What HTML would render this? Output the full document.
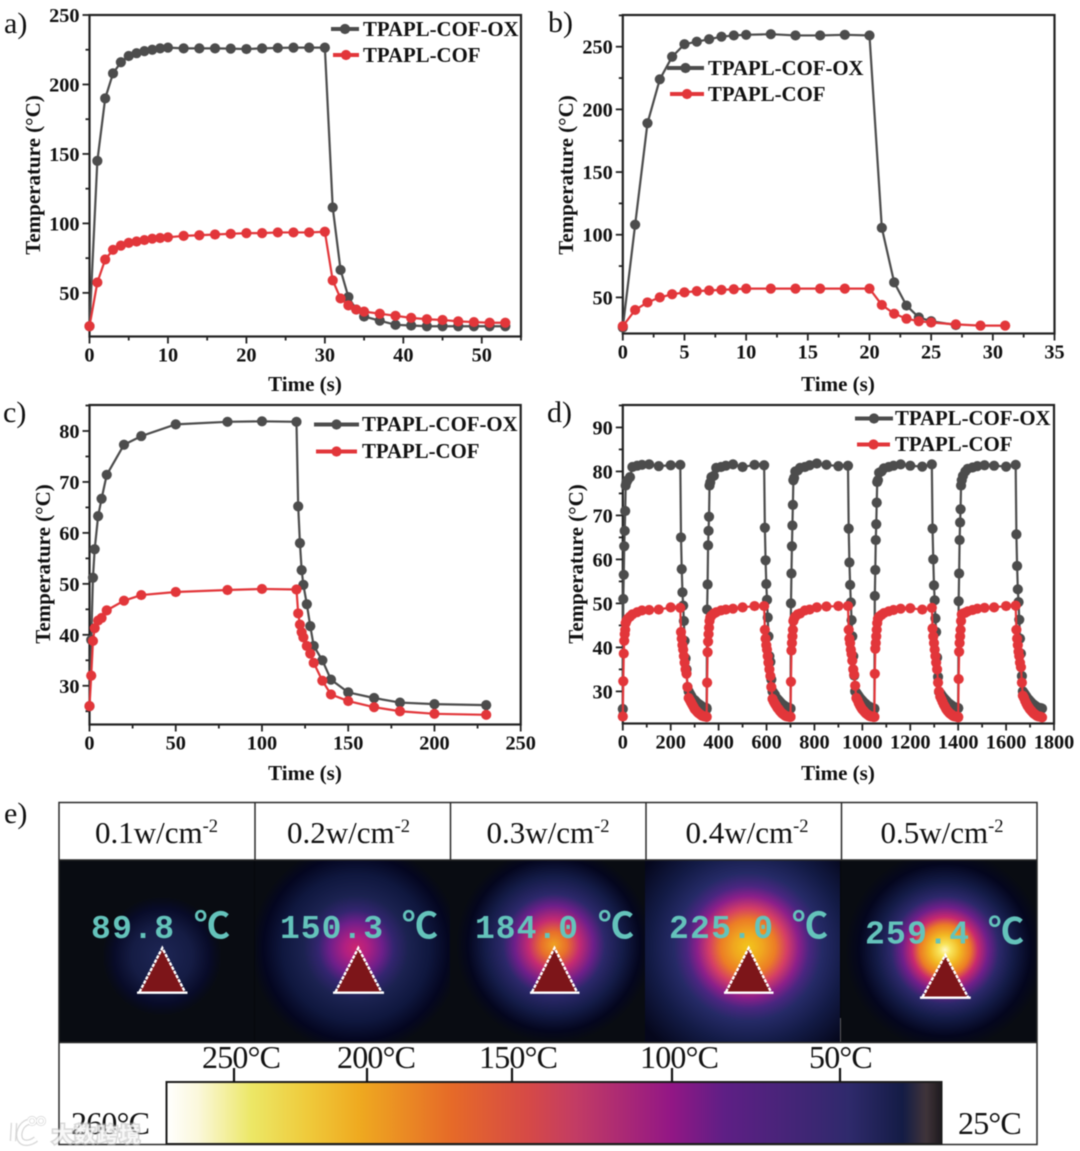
<!DOCTYPE html>
<html lang="en">
<head>
<meta charset="utf-8">
<title>Photothermal heating curves of TPAPL-COF-OX and TPAPL-COF</title>
<style>
html,body{margin:0;padding:0;background:#fff;}
#figure{display:block;filter:blur(0.45px);}
text{font-family:"Liberation Serif","Noto Serif CJK SC",serif;fill:#111;}
.tick{font-weight:bold;font-size:20.3px;}
.title{font-weight:bold;font-size:21px;text-anchor:middle;}
.legend{font-weight:bold;font-size:20.8px;}
.panel{font-size:30px;}
.head{font-size:31px;text-anchor:middle;}
.sup{font-size:18.5px;}
.num{font-family:"Liberation Mono",monospace;font-weight:bold;font-size:33px;fill:#64c3bb;}
.deg{font-family:"Liberation Mono","Noto Sans CJK SC",sans-serif;font-weight:bold;font-size:36px;fill:#64c3bb;}
.scale{font-size:32px;letter-spacing:-0.8px;}
</style>
</head>
<body>
<svg id="figure" xmlns="http://www.w3.org/2000/svg" width="1080" height="1151" viewBox="0 0 1080 1151">
  <defs>
    <linearGradient id="cbar" x1="0" x2="1" y1="0" y2="0">
      <stop offset="0" stop-color="#ffffff"/><stop offset=".04" stop-color="#fbf8dc"/>
      <stop offset=".11" stop-color="#ece766"/><stop offset=".18" stop-color="#efcb3c"/>
      <stop offset=".248" stop-color="#efaa20"/><stop offset=".368" stop-color="#e66a28"/>
      <stop offset=".466" stop-color="#d64a46"/><stop offset=".527" stop-color="#c33c64"/>
      <stop offset=".65" stop-color="#931785"/><stop offset=".72" stop-color="#5e1f85"/>
      <stop offset=".88" stop-color="#2f2a6c"/><stop offset=".95" stop-color="#141c45"/>
      <stop offset=".98" stop-color="#40343a"/><stop offset="1" stop-color="#1e1a1e"/>
    </linearGradient>
    <radialGradient id="h1" gradientUnits="userSpaceOnUse" cx="162" cy="956" r="60">
      <stop offset="0" stop-color="#1e2655"/><stop offset=".5" stop-color="#151c44"/>
      <stop offset=".8" stop-color="#080b28"/><stop offset=".9" stop-color="#080b1c"/><stop offset="1" stop-color="#090c12"/>
    </radialGradient>
    <radialGradient id="h2" gradientUnits="userSpaceOnUse" cx="356" cy="948" r="105">
      <stop offset="0" stop-color="#cc266f"/><stop offset=".11" stop-color="#b01f82"/>
      <stop offset=".25" stop-color="#6e1f8a"/><stop offset=".36" stop-color="#33256f"/>
      <stop offset=".5" stop-color="#1b2250"/><stop offset=".7" stop-color="#0f173e"/>
      <stop offset=".88" stop-color="#040620"/><stop offset="1" stop-color="#090c12"/>
    </radialGradient>
    <radialGradient id="h3" gradientUnits="userSpaceOnUse" cx="554" cy="945" r="98">
      <stop offset="0" stop-color="#efa222"/><stop offset=".13" stop-color="#e8702a"/>
      <stop offset=".26" stop-color="#c42a72"/><stop offset=".4" stop-color="#6e1f8a"/>
      <stop offset=".52" stop-color="#2c286a"/><stop offset=".7" stop-color="#141c48"/>
      <stop offset=".88" stop-color="#04061e"/><stop offset="1" stop-color="#090c12"/>
    </radialGradient>
    <radialGradient id="h4" gradientUnits="userSpaceOnUse" cx="748" cy="947" r="130">
      <stop offset="0" stop-color="#f3c61c"/><stop offset=".11" stop-color="#f0a71f"/>
      <stop offset=".21" stop-color="#ec7d25"/><stop offset=".3" stop-color="#d43d66"/>
      <stop offset=".39" stop-color="#8c1f8a"/><stop offset=".47" stop-color="#4a2680"/>
      <stop offset=".57" stop-color="#252a66"/><stop offset=".75" stop-color="#131b46"/>
      <stop offset="1" stop-color="#05071c"/>
    </radialGradient>
    <radialGradient id="h5" gradientUnits="userSpaceOnUse" cx="945" cy="950" r="100">
      <stop offset="0" stop-color="#fff8c8"/><stop offset=".06" stop-color="#f8e45a"/>
      <stop offset=".15" stop-color="#f2b822"/><stop offset=".25" stop-color="#ec7c25"/>
      <stop offset=".33" stop-color="#c8286f"/><stop offset=".43" stop-color="#6f1f8a"/>
      <stop offset=".54" stop-color="#2c286a"/><stop offset=".68" stop-color="#141c48"/>
      <stop offset=".86" stop-color="#04061e"/><stop offset="1" stop-color="#090c12"/>
    </radialGradient>
  </defs>

  <g id="chart-a"></g>
  <g id="chart-b"></g>
  <g id="chart-c"></g>
  <g id="chart-d"></g>

  <text class="panel" x="4" y="33">a)</text>
  <text class="panel" x="548" y="32">b)</text>
  <text class="panel" x="3" y="422">c)</text>
  <text class="panel" x="547" y="422">d)</text>
  <text class="panel" x="4" y="823">e)</text>

  <text class="title" x="305" y="391">Time (s)</text>
  <text class="title" transform="translate(40 175) rotate(-90)">Temperature (°C)</text>
  <text class="legend" x="363" y="36">TPAPL-COF-OX</text>
  <text class="legend" x="363" y="62">TPAPL-COF</text>

  <text class="title" x="838" y="391">Time (s)</text>
  <text class="title" transform="translate(573 175) rotate(-90)">Temperature (°C)</text>
  <text class="legend" x="708" y="75">TPAPL-COF-OX</text>
  <text class="legend" x="708" y="101">TPAPL-COF</text>

  <text class="title" x="305" y="780">Time (s)</text>
  <text class="title" transform="translate(50 564) rotate(-90)">Temperature (°C)</text>
  <text class="legend" x="362" y="431">TPAPL-COF-OX</text>
  <text class="legend" x="362" y="458">TPAPL-COF</text>

  <text class="title" x="838" y="780">Time (s)</text>
  <text class="title" transform="translate(583 564) rotate(-90)">Temperature (°C)</text>
  <text class="legend" x="895" y="425">TPAPL-COF-OX</text>
  <text class="legend" x="895" y="451">TPAPL-COF</text>

  <!-- panel e : thermal images -->
  <g>
    <rect x="59" y="860" width="978" height="183" fill="#090c12"/>
    <rect x="59" y="860" width="196" height="183" fill="url(#h1)"/>
    <rect x="255" y="860" width="195" height="183" fill="url(#h2)"/>
    <rect x="450" y="860" width="195" height="183" fill="url(#h3)"/>
    <rect x="645" y="860" width="195.5" height="183" fill="url(#h4)"/>
    <rect x="840.5" y="860" width="196.5" height="183" fill="url(#h5)"/>
    <line x1="254.5" x2="254.5" y1="860" y2="1042" stroke="#05070c" stroke-width="1"/>
    <line x1="840.5" x2="840.5" y1="860" y2="1018" stroke="#05070c" stroke-width="1"/>
    <line x1="840.5" x2="840.5" y1="1018" y2="1042" stroke="#5a5a5a" stroke-width="1"/>

    <g>
      <text class="num" x="91" y="938" textLength="83" lengthAdjust="spacing">89.8</text>
      <text class="deg" x="194" y="938">℃</text>
      <text class="num" x="280" y="938" textLength="103" lengthAdjust="spacing">150.3</text>
      <text class="deg" x="402" y="938">℃</text>
      <text class="num" x="475" y="938" textLength="103" lengthAdjust="spacing">184.0</text>
      <text class="deg" x="598" y="938">℃</text>
      <text class="num" x="669" y="938" textLength="104" lengthAdjust="spacing">225.0</text>
      <text class="deg" x="792" y="938">℃</text>
      <text class="num" x="865" y="943.5" textLength="104" lengthAdjust="spacing">259.4</text>
      <text class="deg" x="988" y="943.5">℃</text>
    </g>

    <g>
      <g><polygon points="162.3,948 139.5,992 185,992" fill="#7d1519"/><polyline points="139.5,992 162.3,948 185,992" fill="none" stroke="#fff" stroke-width="2.4" stroke-dasharray="3.6 1.1"/><line x1="137" x2="187.5" y1="992.7" y2="992.7" stroke="#fff" stroke-width="2.4"/></g>
      <g><polygon points="358.3,948 335.5,992 381.5,992" fill="#7d1519"/><polyline points="335.5,992 358.3,948 381.5,992" fill="none" stroke="#fff" stroke-width="2.4" stroke-dasharray="3.6 1.1"/><line x1="333" x2="384" y1="992.7" y2="992.7" stroke="#fff" stroke-width="2.4"/></g>
      <g><polygon points="554.5,948 532,992 577,992" fill="#7d1519"/><polyline points="532,992 554.5,948 577,992" fill="none" stroke="#fff" stroke-width="2.4" stroke-dasharray="3.6 1.1"/><line x1="530" x2="579.5" y1="992.7" y2="992.7" stroke="#fff" stroke-width="2.4"/></g>
      <g><polygon points="748.7,948 726,992 771,992" fill="#7d1519"/><polyline points="726,992 748.7,948 771,992" fill="none" stroke="#fff" stroke-width="2.4" stroke-dasharray="3.6 1.1"/><line x1="724" x2="773.5" y1="992.7" y2="992.7" stroke="#fff" stroke-width="2.4"/></g>
      <g><polygon points="945.3,955 922.5,997 968,997" fill="#7d1519"/><polyline points="922.5,997 945.3,955 968,997" fill="none" stroke="#fff" stroke-width="2.4" stroke-dasharray="3.6 1.1"/><line x1="920" x2="970.7" y1="997.7" y2="997.7" stroke="#fff" stroke-width="2.4"/></g>
    </g>

    <rect x="59" y="803" width="978" height="57" fill="#fff"/>
    <g>
      <text class="head" x="156.5" y="843">0.1w/cm<tspan class="sup" dy="-11">-2</tspan></text>
      <text class="head" x="348.5" y="843">0.2w/cm<tspan class="sup" dy="-11">-2</tspan></text>
      <text class="head" x="548" y="843">0.3w/cm<tspan class="sup" dy="-11">-2</tspan></text>
      <text class="head" x="747" y="843">0.4w/cm<tspan class="sup" dy="-11">-2</tspan></text>
      <text class="head" x="942" y="843">0.5w/cm<tspan class="sup" dy="-11">-2</tspan></text>
    </g>
    <g stroke="#2a2a2a" stroke-width="1.5" fill="none">
      <rect x="59" y="802.5" width="978" height="342"/>
      <line x1="59" x2="1037" y1="860" y2="860"/>
      <line x1="59" x2="1037" y1="1042.5" y2="1042.5"/>
      <line x1="255" x2="255" y1="802" y2="860"/>
      <line x1="450.5" x2="450.5" y1="802" y2="860"/>
      <line x1="646" x2="646" y1="802" y2="860"/>
      <line x1="841.5" x2="841.5" y1="802" y2="860"/>
    </g>

    <rect x="166.5" y="1082" width="775" height="62" fill="url(#cbar)" stroke="#1c1c1c" stroke-width="2"/>
    <g stroke="#111" stroke-width="2.2">
      <line x1="234" x2="234" y1="1068" y2="1082"/>
      <line x1="367" x2="367" y1="1068" y2="1082"/>
      <line x1="512" x2="512" y1="1068" y2="1082"/>
      <line x1="672" x2="672" y1="1068" y2="1082"/>
      <line x1="840" x2="840" y1="1068" y2="1082"/>
    </g>
    <text class="scale" x="202" y="1068">250°C</text>
    <text class="scale" x="337" y="1068">200°C</text>
    <text class="scale" x="479" y="1068">150°C</text>
    <text class="scale" x="640" y="1068">100°C</text>
    <text class="scale" x="809" y="1068">50°C</text>
    <text class="scale" x="71" y="1134">260°C</text>
    <text class="scale" x="958" y="1134">25°C</text>
  </g>

  <g opacity=".95">
    <g fill="none" stroke="#bdbdbd" stroke-width="6.5" stroke-opacity=".65">
      <path d="M14 1123 L13 1141 M28 1122 C20 1125 18 1134 20 1139 C23 1145 31 1143 36 1139"/>
      <circle cx="32" cy="1121" r="3.6" stroke-width="3"/><circle cx="41" cy="1121" r="3.6" stroke-width="3"/>
    </g>
    <g fill="none" stroke="#fff" stroke-width="4">
      <path d="M14 1123 L13 1141 M28 1122 C20 1125 18 1134 20 1139 C23 1145 31 1143 36 1139"/>
      <circle cx="32" cy="1121" r="3.6" stroke-width="1.6"/><circle cx="41" cy="1121" r="3.6" stroke-width="1.6"/>
    </g>
    <text x="52" y="1142" font-size="21" letter-spacing="1.4" style="font-family:'Noto Sans CJK SC',sans-serif;font-weight:bold;fill:#ffffff;fill-opacity:.82;paint-order:stroke;stroke:#b4b4b4;stroke-opacity:.55;stroke-width:3px;">大数跨境</text>
  </g>
</svg>

<script>
/* ---------- Chart a ---------- */
const aTimes = [0,1,2,3,4,5,6,7,8,9,10,12,14,16,18,20,22,24,26,28,30,31,32,33,34,35,37,39,41,43,45,47,49,51,53];
const aOx = [26,145,190,208,216,220.5,222.5,224,225,226,226.5,226,226,226,225.8,225.5,226,226.3,226.5,226.5,226.5,111.5,66.5,47,38,33,30,27,26.5,26,26,26,26,26,26];
const aCof = [26,57.5,74,81,84,86,87,88,89,89.5,90,91,91.5,92,92.5,93,93,93.5,93.5,93.5,94,59,46,41,38,36.5,35,33.5,32,31,30.5,29.5,29,28.5,28.5];
const aXTicks = [0,10,20,30,40,50];
const aYTicks = [50,100,150,200,250];

/* ---------- Chart b ---------- */
const bOxTimes = [0,1,2,3,4,5,6,7,8,9,10,12,14,16,18,20,21,22,23,24,25,27];
const bOx = [26,108,189,224,242,252,254,256,258,259,259.5,260,259,259,259.5,259,105.5,62,43.5,34,31,28];
const bCofTimes = [0,1,2,3,4,5,6,7,8,9,10,12,14,16,18,20,21,22,23,24,25,27,29,31];
const bCof = [27,40,46,50,52.5,54,55,55.5,56,56.5,57,57,57,57,57,57,44,37,33,31,30,28.5,27.5,27.5];
const bXTicks = [0,5,10,15,20,25,30,35];
const bYTicks = [50,100,150,200,250];

/* ---------- Chart c ---------- */
const cTimes = [0,1,2,3,5,7,10,20,30,50,80,100,120,121,122,123,124,126,128,130,135,140,150,165,180,200,230];
const cOx = [26,39,51.2,56.8,63.3,66.7,71.4,77.3,79,81.3,81.8,81.9,81.8,65.2,58,52.7,49.8,46,41.7,37.8,35,31.2,28.7,27.6,26.7,26.4,26.2];
const cCof = [26,32,38.8,41.3,42.8,43.3,44.8,46.7,47.8,48.4,48.8,49,48.9,44.2,42,40.5,39.5,37.8,36.3,34.5,31,28.3,27,25.8,25,24.5,24.3];
const cXTicks = [0,50,100,150,200,250];
const cYTicks = [30,40,50,60,70,80];

/* ---------- Chart d : five on/off cycles ---------- */
const dCycleStarts = [0,350,700,1050,1400];
const dCycleTimes = [0,2,4,6,8,10,12,15,20,30,40,60,80,110,150,200,240,243,246,249,252,255,258,262,266,270,275,280,285,290,295,300,305,310,315,320,325,330,335,340,345,350];
const dOxCycle1 = [26,51,56.5,63,66.5,71,76.8,77.5,78,78.7,81,81.3,81.5,81.6,81.2,81.4,81.5,65,57.8,52.5,49.5,46,41.5,37.5,35,31,30,29.5,29,28.5,28.2,28,27.7,27.4,27.2,27,26.8,26.6,26.4,26.3,26.2,26.2];
const dOxCycle2 = [26,48.6,54.3,63.2,66.5,69.7,76.8,77.5,78.7,79,80.8,81,81.3,81.6,81,81.5,81.4,67.2,59.8,54.4,50.8,46.8,42.5,38,36.7,32.7,30,29.6,29.2,28.6,28.3,28,27.7,27.4,27.1,26.9,26.7,26.5,26.4,26.3,26.2,26.1];
const dOxCycle3 = [26.1,50,56.8,63,67.7,72.4,78,78.5,80,80.2,80.8,81,81.4,81.8,81.5,81.2,81.3,67,59.3,54.2,50.2,46.2,42.5,38,33.6,30,29.7,29.3,28.9,28.5,28.2,27.9,27.6,27.3,27.1,26.8,26.6,26.5,26.3,26.2,26.1,26.1];
const dOxCycle4 = [26,51.7,57.6,64.4,68,72.9,77.6,78,79.7,80,80.7,81,81.3,81.6,81.3,81.1,81.6,67,60,54.1,50.7,46.6,43.5,37.7,33.3,29.9,29.6,29.2,28.8,28.5,28.2,27.9,27.6,27.3,27.1,26.9,26.7,26.5,26.4,26.3,26.2,26.2];
const dOxCycle5 = [26.2,50.5,56.8,64.4,68.4,71.4,76.8,78,79,80,80.6,80.9,81.2,81.4,81.3,81.1,81.5,65.7,58.5,53.2,50.3,46.3,42,38.6,33.5,30,29.6,29.2,28.8,28.4,28.1,27.8,27.5,27.2,27,26.8,26.6,26.4,26.3,26.2,26.2,26.1];
const dCofCycle1 = [24.3,32.3,38.6,41.5,43,44,45.5,46,46.5,47,47.5,48,48.4,48.5,48.6,49.1,49,43.5,42,40.5,39.5,38,36.5,35,34,31,28.5,28,27.5,27,26.5,26,25.7,25.4,25.1,24.9,24.7,24.5,24.4,24.3,24.3,24.2];
const dCofCycle2 = [24.2,32,38.9,41.3,43,44.5,46,46.8,47.2,47.7,48,48.4,48.6,48.8,49.1,49.4,49.4,44,42,40.5,39.5,38,36.5,35,33.5,31,28.3,27.7,27.2,26.8,26.3,26,25.6,25.3,25,24.8,24.6,24.4,24.3,24.3,24.2,24.2];
const dCofCycle3 = [24.2,32.2,39.3,41,42.5,44,46,46.5,47,47.5,47.7,48.4,48.6,49.1,49.3,49.4,49.4,44,42,41,39.5,38.5,37,35,33.8,31.3,28.5,28,27.3,26.8,26.3,25.9,25.6,25.3,25,24.8,24.6,24.4,24.3,24.3,24.2,24.2];
const dCofCycle4 = [24.2,34,39.7,41,42.5,44,45.5,46.5,47,47.4,47.8,48.2,48.5,48.8,48.9,48.6,49,44.3,42.5,41,39.5,38,36.5,35,32,30,28.8,28.2,27.6,27,26.5,26,25.6,25.3,25,24.8,24.6,24.4,24.3,24.3,24.2,24.2];
const dCofCycle5 = [24.1,32.8,39,41,42.5,44,46,47.5,47.7,47.9,48.2,48.5,48.8,49,49.1,49.4,49.5,44,42,40.5,39,38,36.5,35.5,32,29,28.5,27.8,27.2,26.7,26.3,25.9,25.6,25.3,25,24.8,24.6,24.4,24.3,24.3,24.2,24.1];
const dXTicks = [0,200,400,600,800,1000,1200,1400,1600,1800];
const dYTicks = [30,40,50,60,70,80,90];

const SVG_NS = 'http://www.w3.org/2000/svg';
const OX_COLOR = '#4c4c4c';
const COF_COLOR = '#e2363a';
const MARKER_R = 5.1;

function make(tag, parent, attrs) {
  const node = document.createElementNS(SVG_NS, tag);
  for (const key in attrs) node.setAttribute(key, attrs[key]);
  parent.appendChild(node);
  return node;
}

function concatCycles(starts, offsets, cycles) {
  const xs = [], ys = [];
  cycles.forEach(function (cycle, i) {
    cycle.forEach(function (v, j) {
      xs.push(starts[i] + offsets[j]);
      ys.push(v);
    });
  });
  return { xs: xs, ys: ys };
}

function drawChart(cfg) {
  const g = document.getElementById(cfg.id);
  const box = cfg.box;
  const sx = function (v) { return box.l + (v - cfg.xMin) / (cfg.xMax - cfg.xMin) * (box.r - box.l); };
  const sy = function (v) { return box.b - (v - cfg.yMin) / (cfg.yMax - cfg.yMin) * (box.b - box.t); };

  const frame = make('rect', g, { x: box.l, y: box.t, width: box.r - box.l, height: box.b - box.t, fill: 'none', stroke: '#222', 'stroke-width': 2.2 });
  
  

  const xStep = cfg.xTicks[1] - cfg.xTicks[0];
  const yStep = cfg.yTicks[1] - cfg.yTicks[0];

  for (let v = cfg.xTicks[0]; v <= cfg.xMax + 1e-6; v += xStep / 2) {
    const isMajor = cfg.xTicks.indexOf(v) >= 0;
    const tick = make('line', g, { x1: sx(v), x2: sx(v), y1: box.b, y2: box.b + (isMajor ? 7 : 4), stroke: '#222', 'stroke-width': 1.8 });
    
    
  }
  cfg.xTicks.forEach(function (v) {
    const label = make('text', g, { class: 'tick', x: sx(v), y: box.b + 25, 'text-anchor': 'middle' });
    label.textContent = v;
    
    
  });

  for (let v = cfg.yTicks[0] - yStep / 2; v <= cfg.yMax + 1e-6; v += yStep / 2) {
    if (v < cfg.yMin) continue;
    const isMajor = cfg.yTicks.indexOf(v) >= 0;
    const tick = make('line', g, { x1: box.l - (isMajor ? 7 : 4), x2: box.l, y1: sy(v), y2: sy(v), stroke: '#222', 'stroke-width': 1.8 });
    
    
  }
  cfg.yTicks.forEach(function (v) {
    const label = make('text', g, { class: 'tick', x: box.l - 10, y: sy(v) + 7, 'text-anchor': 'end' });
    label.textContent = v;
    
    
  });

  cfg.series.forEach(function (s) {
    const group = make('g', g, {});
    
    
    const pts = s.xs.map(function (x, i) { return sx(x) + ',' + sy(s.ys[i]); }).join(' ');
    const line = make('polyline', group, { points: pts, fill: 'none', stroke: s.color, 'stroke-width': 2.2 });
    
    
    s.xs.forEach(function (x, i) {
      const dot = make('circle', group, { cx: sx(x), cy: sy(s.ys[i]), r: MARKER_R, fill: s.color });
      
      
    });
    const key = make('line', g, { x1: s.key.x1, x2: s.key.x2, y1: s.key.y, y2: s.key.y, stroke: s.color, 'stroke-width': 4 });
    
    
    const keyDot = make('circle', g, { cx: (s.key.x1 + s.key.x2) / 2, cy: s.key.y, r: MARKER_R, fill: s.color });
    
    
  });
}

drawChart({
  id: 'chart-a', box: { l: 89.5, r: 521, t: 15, b: 336.5 },
  xMin: 0, xMax: 55, yMin: 18.6, yMax: 250, xTicks: aXTicks, yTicks: aYTicks,
  series: [
    { name: 'tpapl-cof-ox', xs: aTimes, ys: aOx, color: OX_COLOR, key: { x1: 331, x2: 359, y: 29 } },
    { name: 'tpapl-cof', xs: aTimes, ys: aCof, color: COF_COLOR, key: { x1: 333, x2: 359, y: 55 } }
  ]
});
drawChart({
  id: 'chart-b', box: { l: 622.8, r: 1054.5, t: 15, b: 333.5 },
  xMin: 0, xMax: 35, yMin: 21.2, yMax: 275.3, xTicks: bXTicks, yTicks: bYTicks,
  series: [
    { name: 'tpapl-cof-ox', xs: bOxTimes, ys: bOx, color: OX_COLOR, key: { x1: 667, x2: 704, y: 68 } },
    { name: 'tpapl-cof', xs: bCofTimes, ys: bCof, color: COF_COLOR, key: { x1: 670, x2: 704, y: 94 } }
  ]
});
drawChart({
  id: 'chart-c', box: { l: 89.5, r: 520.7, t: 405, b: 724.5 },
  xMin: 0, xMax: 250, yMin: 22.4, yMax: 85.1, xTicks: cXTicks, yTicks: cYTicks,
  series: [
    { name: 'tpapl-cof-ox', xs: cTimes, ys: cOx, color: OX_COLOR, key: { x1: 314, x2: 359, y: 424.5 } },
    { name: 'tpapl-cof', xs: cTimes, ys: cCof, color: COF_COLOR, key: { x1: 316, x2: 357, y: 451.5 } }
  ]
});
const dOxJoined = concatCycles(dCycleStarts, dCycleTimes, [dOxCycle1, dOxCycle2, dOxCycle3, dOxCycle4, dOxCycle5]);
const dCofJoined = concatCycles(dCycleStarts, dCycleTimes, [dCofCycle1, dCofCycle2, dCofCycle3, dCofCycle4, dCofCycle5]);
drawChart({
  id: 'chart-d', box: { l: 622.8, r: 1054, t: 405, b: 723.5 },
  xMin: 0, xMax: 1800, yMin: 22.7, yMax: 95.1, xTicks: dXTicks, yTicks: dYTicks,
  series: [
    { name: 'tpapl-cof-ox', xs: dOxJoined.xs, ys: dOxJoined.ys, color: OX_COLOR, key: { x1: 855, x2: 893, y: 418.5 } },
    { name: 'tpapl-cof', xs: dCofJoined.xs, ys: dCofJoined.ys, color: COF_COLOR, key: { x1: 857, x2: 890, y: 444.5 } }
  ]
});
</script>
</body>
</html>
